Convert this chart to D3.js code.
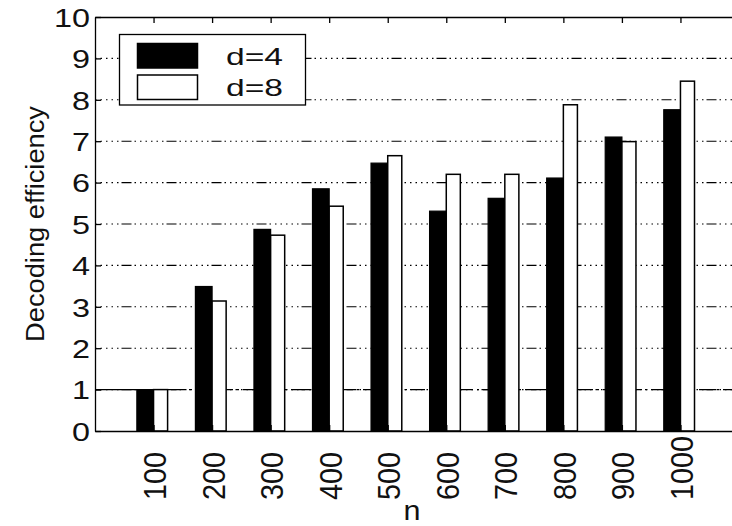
<!DOCTYPE html>
<html lang="en">
<head>
  <meta charset="UTF-8">
  <title>Decoding efficiency</title>
  <script src="https://d3js.org/d3.v7.min.js"></script>
  <style>
    body { margin: 0; background: #fff; }
    text { font-family: "Liberation Sans", Arial, sans-serif; fill: #111; }
  </style>
</head>
<body>
  <div id="viz"></div>

  <script>
    // data
    const nLabels = ["100", "200", "300", "400", "500", "600", "700", "800", "900", "1000"];
    const seriesNames = ["d=4", "d=8"];
    const d4 = [1.0, 3.49, 4.87, 5.85, 6.47, 5.31, 5.62, 6.11, 7.10, 7.76];
    const d8 = [1.0, 3.14, 4.73, 5.43, 6.65, 6.20, 6.20, 7.88, 6.99, 8.45];
    const yTicks = [0, 1, 2, 3, 4, 5, 6, 7, 8, 9, 10];
    const refLine = 1;

    const W = 732, H = 526;
    // plot box (right edge falls just outside the picture, like the original)
    const plotL = 95, plotR = 739, plotT = 17, plotB = 431;

    const svg = d3.select('#viz')
      .append('svg')
        .attr('width', W)
        .attr('height', H);

    const x = d3.scaleLinear().domain([0, nLabels.length + 1]).range([plotL, plotR]);
    const y = d3.scaleLinear().domain([0, 10]).range([plotB, plotT]);

    // dotted grid
    svg.append('g')
      .selectAll('line')
      .data(yTicks.filter(t => t > 0 && t < 10))
      .join('line')
        .attr('x1', plotL).attr('x2', plotR)
        .attr('y1', d => y(d)).attr('y2', d => y(d))
        .attr('stroke', '#000')
        .attr('stroke-width', 1.1)
        .attr('stroke-dasharray', '1.5,4,1.5,4,1.5,4,1.5,4,1.5,3,10,3,1.5,4');

    // dash-dot reference line at 1 (starts with a long solid run)
    const refDash = [42, 4, 2, 4].concat(...d3.range(30).map(() => [14, 4, 2, 4])).join(',');
    svg.append('line')
      .attr('x1', plotL).attr('x2', plotR)
      .attr('y1', y(refLine)).attr('y2', y(refLine))
      .attr('stroke', '#000')
      .attr('stroke-width', 1.3)
      .attr('stroke-dasharray', refDash);

    // grouped bars
    const bw4 = 0.285, bw8 = 0.24;
    const groups = nLabels.map((n, i) => ({ n, c: i + 1, a: d4[i], b: d8[i] }));

    svg.append('g')
      .selectAll('rect')
      .data(groups)
      .join('rect')
        .attr('x', d => x(d.c - bw4))
        .attr('width', d => x(d.c) - x(d.c - bw4))
        .attr('y', d => y(d.a))
        .attr('height', d => y(0) - y(d.a))
        .attr('fill', '#000')
        .attr('stroke', '#000')
        .attr('stroke-width', 1.2);

    svg.append('g')
      .selectAll('rect')
      .data(groups)
      .join('rect')
        .attr('x', d => x(d.c))
        .attr('width', d => x(d.c + bw8) - x(d.c))
        .attr('y', d => y(d.b))
        .attr('height', d => y(0) - y(d.b))
        .attr('fill', '#fff')
        .attr('stroke', '#000')
        .attr('stroke-width', 1.5);

    // axes
    const tickVals = groups.map(d => d.c);

    const yAxis = svg.append('g')
      .attr('transform', `translate(${plotL},0)`)
      .call(d3.axisLeft(y).tickValues(yTicks).tickSize(-6).tickSizeOuter(0).tickPadding(5));
    svg.append('g')
      .attr('transform', `translate(${plotR},0)`)
      .call(d3.axisRight(y).tickValues(yTicks).tickSize(-6).tickSizeOuter(0).tickFormat(''));
    svg.append('g')
      .attr('transform', `translate(0,${plotT})`)
      .call(d3.axisTop(x).tickValues(tickVals).tickSize(-6).tickSizeOuter(0).tickFormat(''));
    const xAxis = svg.append('g')
      .attr('transform', `translate(0,${plotB})`)
      .call(d3.axisBottom(x).tickValues(tickVals).tickSize(-6).tickSizeOuter(0)
        .tickFormat(c => nLabels[c - 1]));

    svg.selectAll('.domain, .tick line')
      .attr('stroke', '#000')
      .attr('stroke-width', 1.3);

    yAxis.selectAll('text')
      .attr('font-size', 26)
      .attr('font-family', '"Liberation Sans", Arial, sans-serif')
      .attr('fill', '#111')
      .attr('dy', '0.36em')
      .attr('textLength', d => String(d).length * 18)
      .attr('lengthAdjust', 'spacingAndGlyphs');

    xAxis.selectAll('text')
      .attr('font-size', 32)
      .attr('font-family', '"Liberation Sans", Arial, sans-serif')
      .attr('fill', '#111')
      .attr('text-anchor', 'start')
      .attr('transform', 'rotate(-90)')
      .attr('x', -69)
      .attr('y', 12)
      .attr('dy', 0)
      .attr('textLength', c => nLabels[c - 1].length * 16)
      .attr('lengthAdjust', 'spacingAndGlyphs');

    // axis titles
    svg.append('text')
      .attr('x', (plotL + plotR) / 2 - 5)
      .attr('y', 520)
      .attr('text-anchor', 'middle')
      .attr('font-size', 27)
      .attr('textLength', 17)
      .attr('lengthAdjust', 'spacingAndGlyphs')
      .text('n');

    svg.append('text')
      .attr('transform', `translate(43.5,${(plotT + plotB) / 2}) rotate(-90)`)
      .attr('text-anchor', 'middle')
      .attr('font-size', 25.5)
      .attr('textLength', 236)
      .attr('lengthAdjust', 'spacingAndGlyphs')
      .text('Decoding efficiency');

    // legend
    const legend = svg.append('g');
    legend.append('rect')
      .attr('x', 119.5).attr('y', 34.5)
      .attr('width', 186).attr('height', 70.5)
      .attr('fill', '#fff')
      .attr('stroke', '#000')
      .attr('stroke-width', 1.3);

    const entries = legend.selectAll('g.entry')
      .data(seriesNames)
      .join('g')
        .attr('class', 'entry')
        .attr('transform', (d, i) => `translate(0,${i * 31.5})`);
    entries.append('rect')
      .attr('x', 137.5).attr('y', 43.5)
      .attr('width', 60).attr('height', 24.5)
      .attr('fill', (d, i) => i === 0 ? '#000' : '#fff')
      .attr('stroke', '#000')
      .attr('stroke-width', 1.5);
    entries.append('text')
      .attr('x', 226)
      .attr('y', 56)
      .attr('dy', '0.36em')
      .attr('font-size', 24)
      .attr('textLength', 57)
      .attr('lengthAdjust', 'spacingAndGlyphs')
      .text(d => d);
  </script>
</body>
</html>
